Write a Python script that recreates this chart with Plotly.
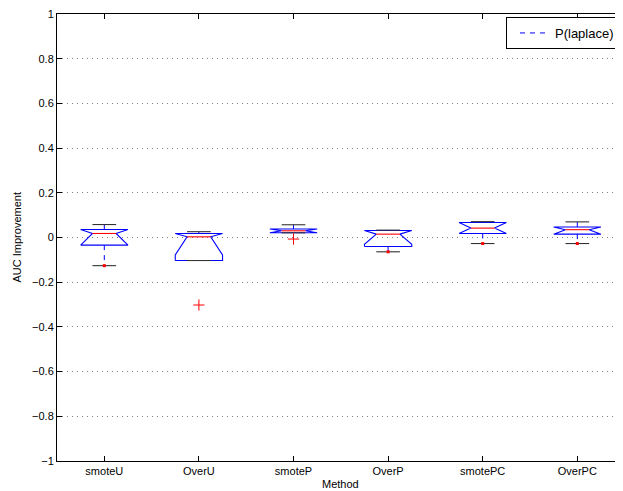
import plotly.graph_objects as go

# ---- data ----
methods = ["smoteU", "OverU", "smoteP", "OverP", "smotePC", "OverPC"]
upper_whisker = [0.058, 0.026, 0.057, 0.033, 0.071, 0.070]
q3 = [0.036, 0.018, 0.038, 0.031, 0.067, 0.047]
median = [0.018, 0.003, 0.030, 0.015, 0.042, 0.035]
q1 = [-0.034, -0.103, 0.021, -0.040, 0.018, 0.015]
lower_whisker = [-0.126, -0.103, 0.021, -0.064, -0.027, -0.027]
notch_span = [0.060, 0.081, 0.020, 0.045, 0.040, 0.030]
outlier_method = ["OverU", "smoteP"]
outlier_value = [-0.302, -0.007]
y_ticks = [-1, -0.8, -0.6, -0.4, -0.2, 0, 0.2, 0.4, 0.6, 0.8, 1]

BOX_HALF = 0.25
NOTCH_HALF = 0.125
CAP_HALF = 0.125

fig = go.Figure()

box_x, box_y = [], []
med_x, med_y = [], []
wh_x, wh_y = [], []
cap_x, cap_y = [], []
dot_x, dot_y = [], []
for i, m in enumerate(methods):
    c = i + 1
    nlo = max(median[i] - notch_span[i], q1[i])
    nhi = min(median[i] + notch_span[i], q3[i])
    L, R = c - BOX_HALF, c + BOX_HALF
    Ln, Rn = c - NOTCH_HALF, c + NOTCH_HALF
    box_x += [L, L, Ln, L, L, R, R, Rn, R, R, L, None]
    box_y += [q1[i], nlo, median[i], nhi, q3[i], q3[i], nhi, median[i], nlo, q1[i], q1[i], None]
    med_x += [Ln, Rn, None]
    med_y += [median[i], median[i], None]
    wh_x += [c, c, None, c, c, None]
    wh_y += [q3[i], upper_whisker[i], None, q1[i], lower_whisker[i], None]
    cap_x += [c - CAP_HALF, c + CAP_HALF, None, c - CAP_HALF, c + CAP_HALF, None]
    cap_y += [upper_whisker[i], upper_whisker[i], None, lower_whisker[i], lower_whisker[i], None]
    if lower_whisker[i] < q1[i]:
        dot_x.append(c)
        dot_y.append(lower_whisker[i])

fig.add_trace(go.Scatter(x=wh_x, y=wh_y, mode="lines", name="P(laplace)",
                         line=dict(color="#0000FF", width=1, dash="5px,5px"),
                         showlegend=True, hoverinfo="skip"))
fig.add_trace(go.Scatter(x=box_x, y=box_y, mode="lines", showlegend=False,
                         line=dict(color="#0000FF", width=1.1), hoverinfo="skip"))
fig.add_trace(go.Scatter(x=cap_x, y=cap_y, mode="lines", showlegend=False,
                         line=dict(color="#333333", width=1.1), hoverinfo="skip"))
fig.add_trace(go.Scatter(x=med_x, y=med_y, mode="lines", showlegend=False,
                         line=dict(color="#FF0000", width=1.1), hoverinfo="skip"))
fig.add_trace(go.Scatter(x=dot_x, y=dot_y, mode="markers", showlegend=False,
                         marker=dict(color="#FF0000", size=3, symbol="square"),
                         hoverinfo="skip"))
fig.add_trace(go.Scatter(x=[methods.index(m) + 1 for m in outlier_method], y=outlier_value,
                         mode="markers", showlegend=False,
                         marker=dict(color="#FF0000", size=8, symbol="cross-thin-open",
                                     line=dict(color="#FF0000", width=1)),
                         hoverinfo="skip"))

font = dict(family="Liberation Sans, Arial, Helvetica, sans-serif", size=11, color="#000000")

# page body has an 8px margin: figure is sized/placed so the plot area sits
# at x 57..623, y 14..461 of the window
PW, PH = 566, 447
fig.update_layout(
    width=615, height=483,
    margin=dict(l=49, r=0, t=6, b=30),
    paper_bgcolor="white", plot_bgcolor="white",
    font=font,
    legend=dict(x=1 - 3 / PW, y=1 - 3 / PH, xanchor="right", yanchor="top",
                bgcolor="white", bordercolor="#000000", borderwidth=1,
                font=dict(family=font["family"], size=13, color="#000000"),
                itemwidth=30, tracegroupgap=0, indentation=8,
                entrywidth=72, entrywidthmode="pixels"),
    annotations=[
        dict(text="Method", xref="paper", yref="paper", x=(340 - 57) / PW, y=-23 / PH,
             xanchor="center", yanchor="middle", showarrow=False, font=font),
        dict(text="AUC Improvement", xref="paper", yref="paper", x=-(57 - 16) / PW, y=0.5,
             xanchor="center", yanchor="middle", textangle=-90, showarrow=False, font=font),
    ],
)
fig.update_xaxes(
    range=[0.5, 0.5 + PW / 94.6],
    tickvals=list(range(1, len(methods) + 1)), ticktext=methods,
    ticks="inside", ticklen=5, tickcolor="#000000",
    showline=True, linecolor="#000000", linewidth=1, mirror="ticks",
    showgrid=False, zeroline=False, ticklabeloverflow="allow",
)
fig.update_yaxes(
    range=[-1, 1], tickvals=y_ticks,
    ticks="inside", ticklen=5, tickcolor="#000000",
    showline=True, linecolor="#000000", linewidth=1, mirror="ticks",
    showgrid=True, gridcolor="#808080", gridwidth=1, griddash="1px,4px",
    zeroline=False, ticklabeloverflow="allow",
)

fig.write_html("out.html")
